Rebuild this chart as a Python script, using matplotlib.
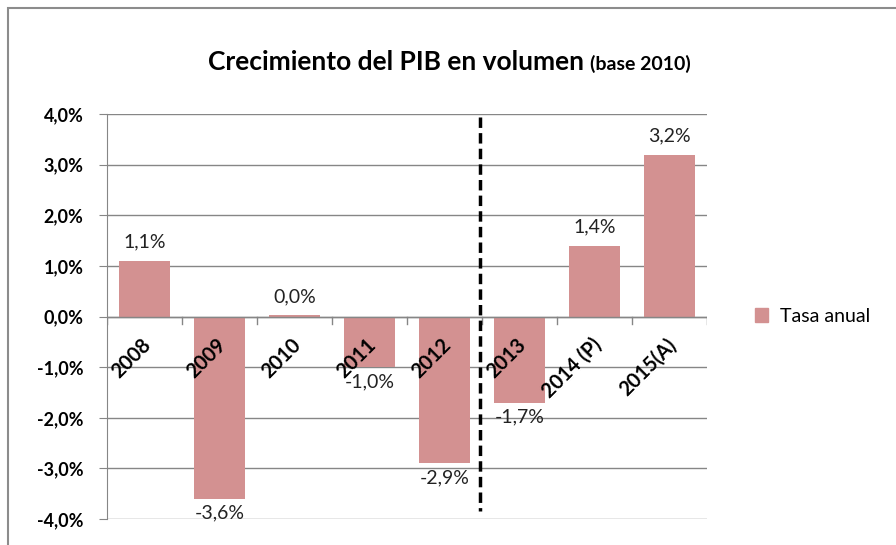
import matplotlib.pyplot as plt
from matplotlib.patches import Rectangle, Patch
from matplotlib.ticker import FuncFormatter

# data
years = ['2008', '2009', '2010', '2011', '2012', '2013', '2014 (P)', '2015(A)']
tasa = [1.1, -3.6, 0.02, -1.0, -2.9, -1.7, 1.4, 3.2]
tasa_labels = ['1,1%', '-3,6%', '0,0%', '-1,0%', '-2,9%', '-1,7%', '1,4%', '3,2%']

plt.rcParams['font.family'] = ['Lato', 'DejaVu Sans']
bar_color = '#d39191'

fig = plt.figure(figsize=(8.96, 5.45), dpi=100)
# outer chart frame (cut off at right and bottom like the screenshot)
fig.patches.append(Rectangle((8 / 896, -0.1), 1.2, 1 - 8 / 545 + 0.1,
                             transform=fig.transFigure, fill=False,
                             edgecolor='#8c8c8c', lw=1.5))

ax = fig.add_axes([107 / 896, 1 - 519 / 545, 600 / 896, 405 / 545])
x = range(len(years))
ax.bar(x, tasa, width=0.69, color=bar_color, zorder=2)

ax.set_xlim(-0.5, len(years) - 0.5)
ax.set_ylim(-4, 4)
ax.set_yticks([-4, -3, -2, -1, 0, 1, 2, 3, 4])
ax.yaxis.set_major_formatter(FuncFormatter(lambda v, p: f'{v:.1f}%'.replace('.', ',')))
for lbl in ax.get_yticklabels():
    lbl.set_fontweight('bold')
ax.tick_params(axis='y', labelsize=13, length=6, color='#868686', pad=11)
ax.grid(axis='y', color='#868686', lw=1, zorder=0)
for s in ['top', 'right', 'bottom']:
    ax.spines[s].set_visible(False)
ax.spines['left'].set_color('#868686')
ax.set_xticks([])

# category axis at zero
ax.axhline(0, color='#868686', lw=1, zorder=3)
for k in range(len(years) + 1):
    ax.plot([k - 0.5, k - 0.5], [0, -0.15], color='#868686', lw=1, zorder=3)

for i, yr in enumerate(years):
    ax.text(i + 0.05, -0.5, yr, rotation=45, ha='right', va='center',
            fontsize=14.5, fontweight='bold', rotation_mode='anchor', zorder=4)

# value labels
for i, (v, t) in enumerate(zip(tasa, tasa_labels)):
    if v >= 0:
        ax.text(i, v + 0.2, t, ha='center', va='bottom', fontsize=14, color='#222222')
    else:
        ax.text(i, v - 0.12, t, ha='center', va='top', fontsize=14, color='#222222')

# dashed separator
ax.plot([4.47, 4.47], [3.95, -3.85], color='black', lw=2.5, ls=(0, (3, 1.5)), zorder=5)

# title
t1 = fig.text(208 / 896, 1 - 62 / 545, 'Crecimiento del PIB en volumen ',
              ha='left', va='center', fontsize=19, fontweight='bold')
fig.canvas.draw()
bb = t1.get_window_extent()
fig.text(bb.x1 / 896, 1 - 64 / 545, '(base 2010)', ha='left', va='center',
         fontsize=14, fontweight='bold')

# legend
ax.legend(handles=[Patch(color=bar_color, label='Tasa anual')],
          loc='center left', bbox_to_anchor=(1.05, 0.5),
          frameon=False, fontsize=14, handlelength=0.7, handleheight=0.7,
          handletextpad=0.6)

fig.savefig('out.png', dpi=100)
